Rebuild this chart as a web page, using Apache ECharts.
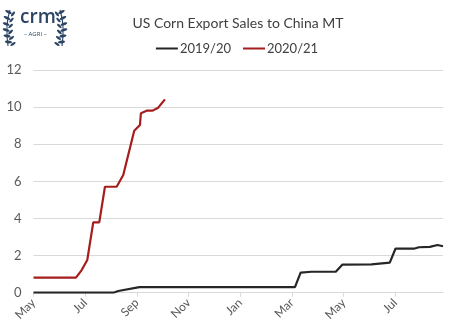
<!DOCTYPE html>
<html><head><meta charset="utf-8">
<script src="https://cdn.jsdelivr.net/npm/echarts@6/dist/echarts.min.js"></script>
<style>html,body{margin:0;padding:0;background:#fff}#c{width:474px;height:335px}</style>
</head><body><div id="c"></div>
<script>
// x positions are in months since 1 May (0 = May, 2 = Jul, ...)
const monthLabels = ['May','Jul','Sep','Nov','Jan','Mar','May','Jul'];
const s1920x = [0, 3.09, 3.28, 4.1, 10.12, 10.34, 10.76, 11.7, 11.95, 13.08, 13.79, 14.01, 14.72, 14.92, 15.34, 15.64, 15.85];
const s1920y = [0, 0, 0.09, 0.3, 0.3, 1.08, 1.13, 1.13, 1.51, 1.53, 1.62, 2.37, 2.37, 2.45, 2.47, 2.57, 2.5];
const s2021x = [0, 1.644, 1.865, 2.081, 2.313, 2.545, 2.766, 3.219, 3.474, 3.899, 4.12, 4.157, 4.379, 4.611, 4.828, 5.087];
const s2021y = [0.81, 0.81, 1.22, 1.76, 3.79, 3.79, 5.71, 5.71, 6.34, 8.73, 9.04, 9.67, 9.81, 9.81, 9.97, 10.42];
const yTicks = [0, 2, 4, 6, 8, 10, 12];

const zip = (xs, ys) => xs.map((x, i) => [x, ys[i]]);
const chart = echarts.init(document.getElementById('c'), null, {renderer: 'canvas'});
const FONT = 'Lato';
const navy = '#2c4565';

// laurel leaves (decoration of the logo)
const leaves = [];
function laurel(cx, side) {
  for (let i = 0; i < 6; i++) {
    const t = i / 5;
    const y = 12 + t * 30;
    const x = cx + side * (Math.sin(t * Math.PI) * 2.5);
    leaves.push({type: 'ellipse', shape: {cx: 0, cy: 0, rx: 3.6, ry: 1.4},
      x: x + side * 2.5, y: y, rotation: side * (0.5 - t * 0.4),
      style: {fill: navy}, silent: true});
    leaves.push({type: 'ellipse', shape: {cx: 0, cy: 0, rx: 3, ry: 1.2},
      x: x - side * 2, y: y + 2, rotation: -side * (0.9 - t * 0.3),
      style: {fill: navy}, silent: true});
  }
  leaves.push({type: 'bezierCurve', shape: {x1: cx + side * 1, y1: 10, x2: cx + side * 3, y2: 46, cpx1: cx + side * 6, cpy1: 25}, style: {stroke: navy, lineWidth: 1.1, fill: null}, silent: true});
}
laurel(11, -1);
laurel(59, 1);

chart.setOption({
  animation: false,
  backgroundColor: '#fff',
  title: {
    text: 'US Corn Export Sales to China MT',
    left: 233, top: 11, textAlign: 'center',
    textStyle: {fontFamily: FONT, fontSize: 14, fontWeight: 'normal', color: '#404040'}
  },
  legend: {
    top: 37, left: 'center',
    itemWidth: 22, itemHeight: 2, itemGap: 12,
    icon: 'rect',
    textStyle: {fontFamily: FONT, fontSize: 13, color: '#404040', padding: [0, 0, 0, -3]},
    data: ['2019/20', '2020/21']
  },
  grid: {left: 33.5, right: 31, top: 70, bottom: 42.3, containLabel: false},
  xAxis: {
    type: 'value', min: 0, max: 15.85, interval: 2,
    axisLine: {show: true, lineStyle: {color: '#d9d9d9'}},
    axisTick: {show: true, length: 4, lineStyle: {color: '#d9d9d9'}},
    splitLine: {show: false},
    axisLabel: {
      rotate: 45, margin: 8, color: '#595959', fontFamily: FONT, fontSize: 12,
      showMaxLabel: false,
      formatter: v => monthLabels[Math.round(v / 2)] || ''
    }
  },
  yAxis: {
    type: 'value', min: 0, max: 12, interval: 2,
    axisLine: {show: false}, axisTick: {show: false},
    splitLine: {lineStyle: {color: '#d9d9d9', width: 1}},
    axisLabel: {color: '#595959', fontFamily: FONT, fontSize: 13, margin: 12,
      formatter: v => yTicks.includes(v) ? String(v) : ''}
  },
  series: [
    {name: '2019/20', type: 'line', data: zip(s1920x, s1920y), symbol: 'none',
      itemStyle: {color: '#262626'}, lineStyle: {color: '#262626', width: 2.2}},
    {name: '2020/21', type: 'line', data: zip(s2021x, s2021y), symbol: 'none',
      itemStyle: {color: '#a51d1d'}, lineStyle: {color: '#a51d1d', width: 2.2}}
  ],
  graphic: leaves.concat([
    {type: 'text', left: 20, top: 8, silent: true,
      style: {text: 'crm', font: '600 19px "Open Sans"', fill: navy}},
    {type: 'text', left: 24, top: 31, silent: true,
      style: {text: '– AGRI –', font: '6px "Open Sans"', fill: navy}}
  ])
});
</script></body></html>
